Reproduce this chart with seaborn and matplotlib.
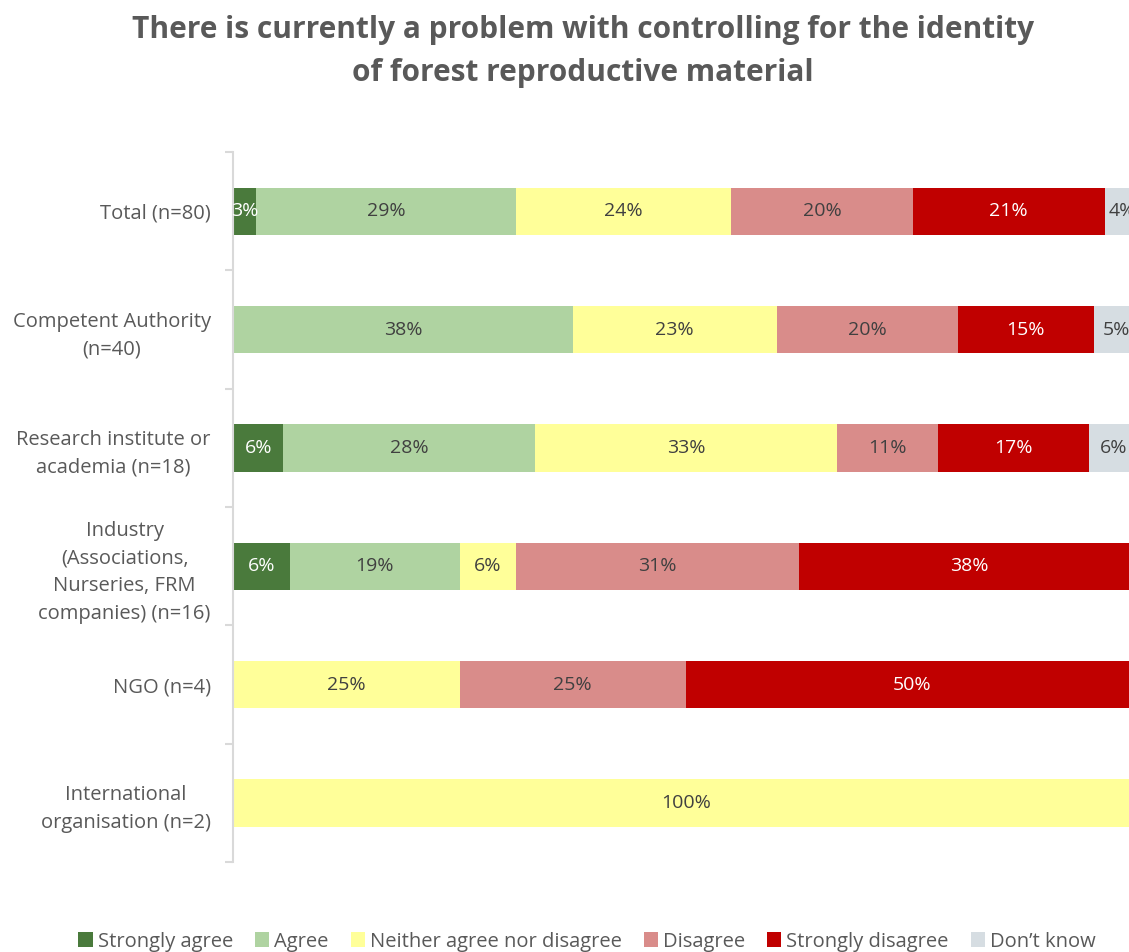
import math
import numpy as np
import pandas as pd
import matplotlib
matplotlib.use("Agg")
import matplotlib.pyplot as plt
import seaborn as sns
from matplotlib.patches import Patch

# Respondent groups (top to bottom)
groups = [
    "Total (n=80)",
    "Competent Authority\n(n=40)",
    "Research institute or\nacademia (n=18)",
    "Industry\n(Associations,\nNurseries, FRM\ncompanies) (n=16)",
    "NGO (n=4)",
    "International\norganisation (n=2)",
]
group_n = [80, 40, 18, 16, 4, 2]

answers = ["Strongly agree", "Agree", "Neither agree nor disagree",
           "Disagree", "Strongly disagree", "Don\u2019t know"]

# Number of respondents giving each answer, per group
strongly_agree = [2, 0, 1, 1, 0, 0]
agree = [23, 15, 5, 3, 0, 0]
neither = [19, 9, 6, 1, 1, 2]
disagree = [16, 8, 2, 5, 1, 0]
strongly_disagree = [17, 6, 3, 6, 2, 0]
dont_know = [3, 2, 1, 0, 0, 0]

colors = ["#4a7a3c", "#afd3a1", "#ffff99", "#d98c8a", "#c00000", "#d6dde2"]
label_colors = ["white", "#404040", "#404040", "#404040", "white", "#404040"]

counts = np.array([strongly_agree, agree, neither, disagree,
                   strongly_disagree, dont_know], dtype=float)
pct = counts / np.array(group_n, dtype=float) * 100.0
cum = np.cumsum(pct, axis=0)

sns.set_theme(style="white")
plt.rcParams["font.family"] = ["Open Sans", "DejaVu Sans"]

fig = plt.figure(figsize=(11.29, 9.52), dpi=100)
ax = fig.add_axes([233 / 1129, 1 - 862 / 952, 906 / 1129, 710 / 952])

# Stacked bars: draw the cumulative totals from the widest layer down
for k in range(len(answers) - 1, -1, -1):
    df = pd.DataFrame({"group": groups, "value": cum[k]})
    sns.barplot(data=df, x="value", y="group", orient="h", color=colors[k],
                width=0.4, linewidth=0, saturation=1, ax=ax)

# Percentage labels in the middle of each segment
for k in range(len(answers)):
    for i in range(len(groups)):
        v = pct[k, i]
        if v <= 0:
            continue
        center = cum[k, i] - v / 2
        ax.text(center, i, f"{math.floor(v + 0.5)}%", ha="center", va="center",
                fontsize=14, color=label_colors[k])

ax.set_xlim(0, 100)
ax.set_ylim(5.5, -0.5)
ax.set_xlabel("")
ax.set_ylabel("")
ax.set_xticks([])

for side in ["top", "right", "bottom"]:
    ax.spines[side].set_visible(False)
ax.spines["left"].set_color("#d9d9d9")
ax.spines["left"].set_linewidth(1.5)

ax.set_yticks(range(len(groups)))
ax.set_yticklabels(groups, multialignment="center", fontsize=14.5, color="#595959",
                   linespacing=1.5)
ax.tick_params(axis="y", which="major", length=0, pad=16)
ax.set_yticks(np.arange(-0.5, len(groups), 1.0), minor=True)
ax.tick_params(axis="y", which="minor", length=6, width=1.5, color="#d9d9d9", left=True)

fig.text(0.516, 0.946,
         "There is currently a problem with controlling for the identity\nof forest reproductive material",
         ha="center", va="center", fontsize=21.5, fontweight="bold", color="#595959",
         linespacing=1.55)

handles = [Patch(facecolor=c, edgecolor="none") for c in colors]
fig.legend(handles, answers, loc="center", bbox_to_anchor=(0.52, 0.011), ncol=6,
           frameon=False, fontsize=14.5, labelcolor="#595959", handlelength=0.7,
           handleheight=0.7, handletextpad=0.25, columnspacing=1.1)

fig.savefig("out.png", dpi=100)
